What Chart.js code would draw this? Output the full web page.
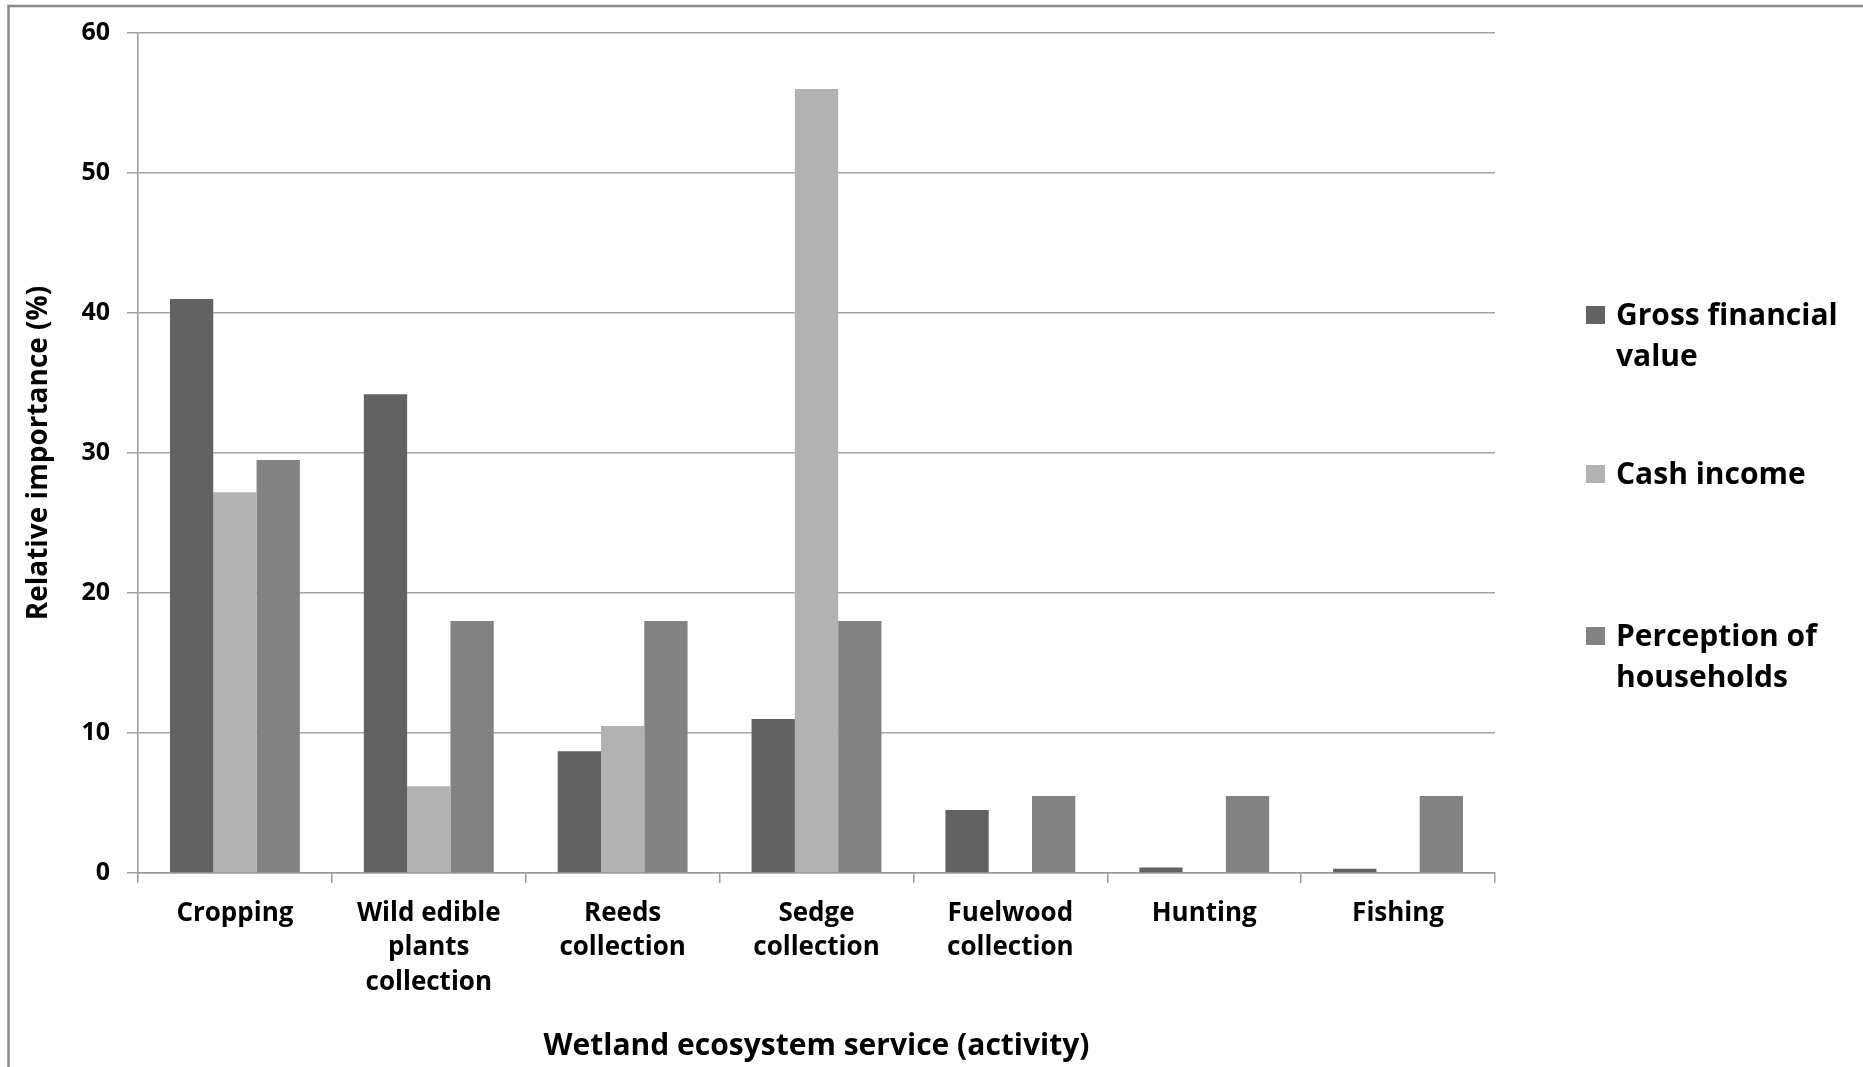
<!DOCTYPE html>
<html>
<head>
<meta charset="utf-8">
<script src="https://cdn.jsdelivr.net/npm/chart.js@4.4.1/dist/chart.umd.min.js"></script>
<style>
  html, body { margin: 0; padding: 0; background: #ffffff; overflow: hidden; }
  canvas { display: block; }
</style>
</head>
<body>
<canvas id="chart" width="1863" height="1067"></canvas>
<script>
// Activities (multi-line category labels)
const categories = [
  ['Cropping'],
  ['Wild edible', 'plants', 'collection'],
  ['Reeds', 'collection'],
  ['Sedge', 'collection'],
  ['Fuelwood', 'collection'],
  ['Hunting'],
  ['Fishing']
];

// Series names (wrapped as in the legend)
const seriesNames = [
  ['Gross financial', 'value'],
  ['Cash income'],
  ['Perception of', 'households']
];

// Relative importance (%) per activity
const grossFinancialValue    = [41.0, 34.2, 8.7, 11.0, 4.5, 0.4, 0.3];
const cashIncome             = [27.2, 6.2, 10.5, 56.0, 0, 0, 0];
const perceptionOfHouseholds = [29.5, 18.0, 18.0, 18.0, 5.5, 5.5, 5.5];

// Value axis ticks
const yTicks = [0, 10, 20, 30, 40, 50, 60];

const seriesColors = ['#626262', '#b2b2b2', '#828282'];
const FONT = '"Open Sans", Lato, sans-serif';

// Outer frame of the chart
const framePlugin = {
  id: 'frame',
  beforeDraw(chart) {
    const ctx = chart.ctx;
    ctx.save();
    ctx.fillStyle = '#ffffff';
    ctx.fillRect(0, 0, chart.width, chart.height);
    ctx.strokeStyle = '#8a8a8a';
    ctx.lineWidth = 2.5;
    ctx.beginPath();
    ctx.moveTo(8.5, chart.height + 5);
    ctx.lineTo(8.5, 6);
    ctx.lineTo(chart.width + 5, 6);
    ctx.stroke();
    ctx.restore();
  }
};

// Legend on the right, with wrapped entry names
const sideLegendPlugin = {
  id: 'sideLegend',
  afterDraw(chart) {
    const ctx = chart.ctx;
    const boxX = 1586, textX = 1616, box = 19, lineGap = 41;
    const firstBaselines = [325, 484, 646];
    ctx.save();
    ctx.font = 'bold 30px ' + FONT;
    ctx.textAlign = 'left';
    ctx.textBaseline = 'alphabetic';
    chart.data.datasets.forEach((ds, i) => {
      const base = firstBaselines[i];
      ctx.fillStyle = ds.backgroundColor;
      ctx.fillRect(boxX, base - 19, box, box - 1);
      ctx.fillStyle = '#000000';
      ds.label.forEach((line, j) => {
        ctx.fillText(line, textX, base + j * lineGap);
      });
    });
    ctx.restore();
  }
};

new Chart(document.getElementById('chart'), {
  type: 'bar',
  data: {
    labels: categories,
    datasets: [
      { label: seriesNames[0], data: grossFinancialValue, backgroundColor: seriesColors[0] },
      { label: seriesNames[1], data: cashIncome, backgroundColor: seriesColors[1] },
      { label: seriesNames[2], data: perceptionOfHouseholds, backgroundColor: seriesColors[2] }
    ]
  },
  options: {
    responsive: false,
    animation: false,
    devicePixelRatio: 1,
    layout: { padding: { top: 33, right: 368, left: 0, bottom: 0 } },
    datasets: {
      bar: { categoryPercentage: 0.67, barPercentage: 1.0, borderWidth: 0 }
    },
    plugins: {
      legend: { display: false },
      tooltip: { enabled: false }
    },
    scales: {
      x: {
        grid: {
          display: true,
          offset: true,
          drawOnChartArea: false,
          drawTicks: true,
          tickLength: 10,
          color: '#9a9a9a',
          lineWidth: 1.5
        },
        border: { display: true, color: '#9a9a9a', width: 1.5 },
        ticks: {
          color: '#000000',
          padding: 13,
          maxRotation: 0,
          autoSkip: false,
          font: { family: FONT, size: 26, weight: 'bold', lineHeight: 1.33 }
        },
        title: {
          display: true,
          text: 'Wetland ecosystem service (activity)',
          color: '#000000',
          padding: { top: 0, bottom: 3 },
          font: { family: FONT, size: 30, weight: 'bold', lineHeight: 1.2 }
        },
        afterFit(scale) { scale.height = 1067 - 873; }
      },
      y: {
        min: 0,
        max: 60,
        afterBuildTicks(scale) { scale.ticks = yTicks.map(v => ({ value: v })); },
        grid: {
          color: '#a3a3a3',
          lineWidth: 1.5,
          drawTicks: true,
          tickLength: 11
        },
        border: { display: true, color: '#9a9a9a', width: 1.5 },
        ticks: {
          color: '#000000',
          padding: 17,
          font: { family: FONT, size: 25, weight: 'bold' }
        },
        title: {
          display: true,
          text: 'Relative importance (%)',
          color: '#000000',
          padding: { top: 22, bottom: 0 },
          font: { family: FONT, size: 28, weight: 'bold', lineHeight: 1.2 }
        },
        afterFit(scale) { scale.width = 138; }
      }
    }
  },
  plugins: [framePlugin, sideLegendPlugin]
});
</script>
</body>
</html>
